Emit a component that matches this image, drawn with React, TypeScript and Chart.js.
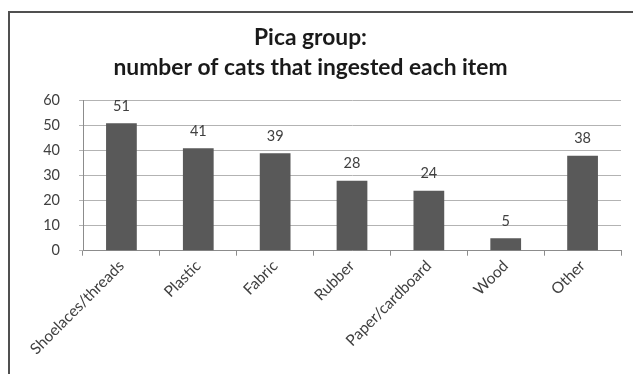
import React, { useEffect, useRef } from "react";
import { Chart, registerables } from "chart.js";

Chart.register(...registerables);

const categories = ["Shoelaces/threads", "Plastic", "Fabric", "Rubber", "Paper/cardboard", "Wood", "Other"];
const values = [51, 41, 39, 28, 24, 5, 38];
const titleLines = ["Pica group:", "number of cats that ingested each item"];
const yMin = 0;
const yMax = 60;
const yStep = 10;

const FONT = "Lato, 'Open Sans', sans-serif";

const dataLabels = {
  id: "dataLabels",
  afterDatasetsDraw(chart: any) {
    const ctx = chart.ctx;
    const meta = chart.getDatasetMeta(0);
    ctx.save();
    ctx.font = `14.5px ${FONT}`;
    ctx.fillStyle = "#404040";
    ctx.textAlign = "center";
    ctx.textBaseline = "bottom";
    meta.data.forEach((bar: any, i: number) => {
      ctx.fillText(String(chart.data.datasets[0].data[i]), bar.x, bar.y - 10);
    });
    ctx.restore();
  },
};

export default function App() {
  const ref = useRef<HTMLCanvasElement>(null);
  useEffect(() => {
    if (!ref.current) return;
    const chart = new Chart(ref.current, {
      type: "bar",
      data: {
        labels: categories,
        datasets: [
          {
            data: values,
            backgroundColor: "#595959",
            borderWidth: 0,
            barPercentage: 0.4,
            categoryPercentage: 1,
          },
        ],
      },
      options: {
        animation: false,
        responsive: false,
        maintainAspectRatio: false,
        layout: { padding: { top: 0, right: 12, bottom: 0, left: 0 } },
        plugins: {
          legend: { display: false },
          tooltip: { enabled: false },
          title: {
            display: true,
            text: titleLines,
            color: "#1a1a1a",
            font: { family: FONT, size: 22.8, weight: "bold", lineHeight: 1.32 },
            padding: { top: 22.5, bottom: 18 },
          },
        },
        scales: {
          x: {
            grid: {
              display: true,
              drawOnChartArea: false,
              drawTicks: true,
              tickLength: 5,
              color: "#8c8c8c",
              offset: true,
            },
            border: { display: true, color: "#8c8c8c" },
            ticks: {
              color: "#404040",
              font: { family: FONT, size: 15.5 },
              minRotation: 45,
              maxRotation: 45,
              autoSkip: false,
              padding: 1,
            },
            afterFit(scale: any) {
              scale.height = 123.3;
            },
          },
          y: {
            min: yMin,
            max: yMax,
            ticks: {
              stepSize: yStep,
              color: "#404040",
              font: { family: FONT, size: 14.5 },
              padding: 19,
            },
            grid: { color: "#b3b3b3", tickLength: 4, lineWidth: 1 },
            border: { display: true, color: "#8c8c8c" },
            afterFit(scale: any) {
              scale.width = 83;
            },
          },
        },
      },
      plugins: [dataLabels],
    });
    return () => chart.destroy();
  }, []);

  return (
    <div style={{ position: "absolute", left: 0, top: 0, width: 633, height: 374, background: "#fff", overflow: "hidden" }}>
      <div
        style={{
          position: "absolute",
          left: 8,
          top: 11,
          width: 660,
          height: 400,
          border: "2px solid #505050",
          boxSizing: "border-box",
        }}
      />
      <canvas ref={ref} width={633} height={374} style={{ position: "absolute", left: 0, top: 0 }} />
    </div>
  );
}
